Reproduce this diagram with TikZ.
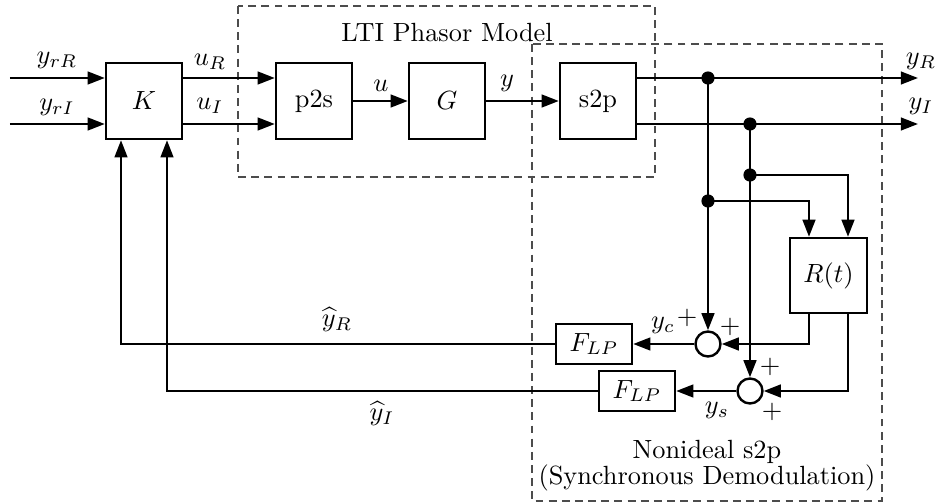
\documentclass[tikz,border=0pt]{standalone}
\usetikzlibrary{arrows.meta,calc}
\begin{document}
\begin{tikzpicture}[x=0.38pt,y=-0.38pt,
  blk/.style={draw,line width=0.9pt,minimum width=28.9pt,minimum height=28.9pt,inner sep=0pt},
  lpf/.style={draw,line width=0.9pt,minimum width=28.9pt,minimum height=15.2pt,inner sep=0pt},
  sumj/.style={draw,circle,line width=0.9pt,minimum size=9.5pt,inner sep=0pt},
  arr/.style={line width=0.9pt,-{Triangle[length=6.5pt,width=4.8pt]}},
  dot/.style={circle,fill,minimum size=5pt,inner sep=0pt},
  dbox/.style={draw=black!70,line width=0.45pt,dash pattern=on 3pt off 2pt},
  lbl/.style={inner sep=0pt}]
\useasboundingbox (0,0) rectangle (936,502);
% dashed boxes
\draw[dbox] (238,6) rectangle (655,177);
\draw[dbox] (532,44) rectangle (882,501);
\node[lbl] (lti) at (447,33) {LTI Phasor Model};
\node[lbl] (ns1) at (707,452) {Nonideal s2p};
\node[lbl] (ns2) at (707,478) {(Synchronous Demodulation)};
% blocks
\node[blk] (K) at (144,101) {$K$};
\node[blk] (P) at (314,101) {p2s};
\node[blk] (G) at (447,101) {$G$};
\node[blk] (S) at (598,101) {s2p};
\node[blk,minimum width=29.3pt,minimum height=28.5pt] (R) at (828.5,275.5) {$R(t)$};
\node[lpf] (F1) at (594,344) {$F_{LP}$};
\node[lpf] (F2) at (637,391) {$F_{LP}$};
\node[sumj] (s1) at (708,344) {};
\node[sumj] (s2) at (750,391) {};
% coordinates
\coordinate (in1) at (10,78);
\coordinate (in2) at (10,124);
\coordinate (rR) at (0,78);
\coordinate (rI) at (0,124);
\coordinate (o1) at (918,78);
\coordinate (o2) at (918,124);
\coordinate (ra) at (809,0);
\coordinate (rb) at (848,0);
\coordinate (fa) at (121,0);
\coordinate (fb) at (167,0);
\node[dot] (d1) at (708,78) {};
\node[dot] (d2) at (750,124) {};
\node[dot] (d3) at (750,175) {};
\node[dot] (d4) at (708,201) {};
% connectors
\draw[arr] (in1) -- (K.west |- in1);
\draw[arr] (in2) -- (K.west |- in2);
\draw[arr] (K.east |- rR) -- (P.west |- rR);
\draw[arr] (K.east |- rI) -- (P.west |- rI);
\draw[arr] (P) -- (G);
\draw[arr] (G) -- (S);
\draw[arr] (S.east |- rR) -- (o1);
\draw[arr] (S.east |- rI) -- (o2);
\draw[arr] (d1.center) -- (s1.north);
\draw[arr] (d2.center) -- (s2.north);
\draw[arr] (d3.center) -| (rb |- R.north);
\draw[arr] (d4.center) -| (ra |- R.north);
\draw[arr] (ra |- R.south) |- (s1.east);
\draw[arr] (rb |- R.south) |- (s2.east);
\draw[arr] (s1.west) -- (F1.east);
\draw[arr] (s2.west) -- (F2.east);
\draw[arr] (F1.west) -| (fa |- K.south);
\draw[arr] (F2.west) -| (fb |- K.south);
% labels
\node[lbl] (l1) at (57,60) {$y_{rR}$};
\node[lbl] (l2) at (57,107) {$y_{rI}$};
\node[lbl] (l3) at (210,62) {$u_R$};
\node[lbl] (l4) at (210,106) {$u_I$};
\node[lbl] (l5) at (381,86) {$u$};
\node[lbl] (l6) at (507,83) {$y$};
\node[lbl] (l7) at (921,61) {$y_R$};
\node[lbl] (l8) at (921,106) {$y_I$};
\node[lbl] (l9) at (337,320) {$\widehat{y}_R$};
\node[lbl] (l10) at (382,414) {$\widehat{y}_I$};
\node[lbl] (l11) at (663,325) {$y_c$};
\node[lbl] (l12) at (717,410) {$y_s$};
\node[lbl] (p1) at (687,318) {$+$};
\node[lbl] (p2) at (730,327) {$+$};
\node[lbl] (p3) at (770,367) {$+$};
\node[lbl] (p4) at (772,412) {$+$};
\end{tikzpicture}
\end{document}
